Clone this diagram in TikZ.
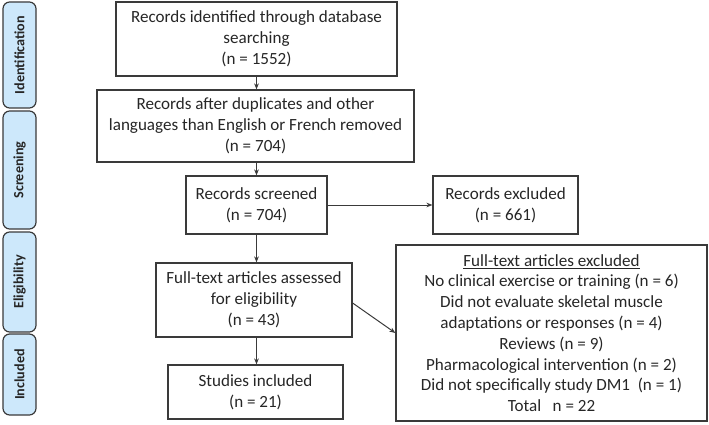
\documentclass[tikz,border=0pt]{standalone}
\usepackage{fontspec}
\setmainfont{Carlito}
\usetikzlibrary{arrows.meta,calc}
\definecolor{tabfill}{HTML}{CDE8FB}
\definecolor{edge}{HTML}{3A3A3A}
\begin{document}
\begin{tikzpicture}[x=0.75pt,y=-0.75pt,
  tabbox/.style={draw=edge,line width=0.9pt,fill=tabfill,rounded corners=5pt,inner sep=0pt},
  tablabel/.style={rotate=90,font=\fontsize{10.6}{12}\selectfont\bfseries,text=black!85},
  flowbox/.style={draw=edge,line width=0.9pt,inner sep=0pt,align=center,font=\fontsize{12.8}{15.6}\selectfont,text=black!85},
  conn/.style={draw=edge,line width=0.75pt,-{Stealth[length=4.5pt,width=3.5pt]}}]
\useasboundingbox (0,0) rectangle (709,424);
% side tabs
\node[tabbox,minimum width=33*0.75pt,minimum height=106*0.75pt] (t1) at (19.5,55) {};
\node[tablabel] (t1l) at (t1.center) {Identification};
\node[tabbox,minimum width=33*0.75pt,minimum height=118*0.75pt] (t2) at (19.5,170) {};
\node[tablabel] (t2l) at (t2.center) {Screening};
\node[tabbox,minimum width=33*0.75pt,minimum height=100*0.75pt] (t3) at (19.5,282) {};
\node[tablabel] (t3l) at (t3.center) {Eligibility};
\node[tabbox,minimum width=33*0.75pt,minimum height=81*0.75pt] (t4) at (19.5,374.5) {};
\node[tablabel] (t4l) at (t4.center) {Included};
% flow boxes
\node[flowbox,minimum width=281*0.75pt,minimum height=74*0.75pt] (b1) at (256.5,39)
  {Records identified through database\\searching\\(n = 1552)};
\node[flowbox,minimum width=317*0.75pt,minimum height=72*0.75pt] (b2) at (255.5,126)
  {Records after duplicates and other\\languages than English or French removed\\(n = 704)};
\node[flowbox,minimum width=141*0.75pt,minimum height=58*0.75pt] (b3) at (256.5,205)
  {Records screened\\(n = 704)};
\node[flowbox,minimum width=145*0.75pt,minimum height=58*0.75pt] (b4) at (505.5,205)
  {Records excluded\\(n = 661)};
\node[flowbox,minimum width=196*0.75pt,minimum height=74*0.75pt] (b5) at (254,300)
  {Full-text articles assessed\\for eligibility\\(n = 43)};
\node[flowbox,minimum width=311*0.75pt,minimum height=176*0.75pt] (b6) at (551.5,333)
  {\underline{Full-text articles excluded}\\No clinical exercise or training (n = 6)\\Did not evaluate skeletal muscle\\adaptations or responses (n = 4)\\Reviews (n = 9)\\Pharmacological intervention (n = 2)\\Did not specifically study DM1~~(n = 1)\\Total~~~n = 22};
\node[flowbox,minimum width=175*0.75pt,minimum height=54*0.75pt] (b7) at (255.5,392)
  {Studies included\\(n = 21)};
% connectors
\draw[conn] (b1.south) -- (b1.south |- b2.north);
\draw[conn] (b2.south -| b1.south) -- (b1.south |- b3.north);
\draw[conn] (b3.east) -- (b4.west);
\draw[conn] (b3.south) -- (b3.south |- b5.north);
\draw[conn] (b5.south -| b3.south) -- (b3.south |- b7.north);
\draw[conn] ($(b5.east)+(0,3)$) -- (b6.west);
\end{tikzpicture}
\end{document}
